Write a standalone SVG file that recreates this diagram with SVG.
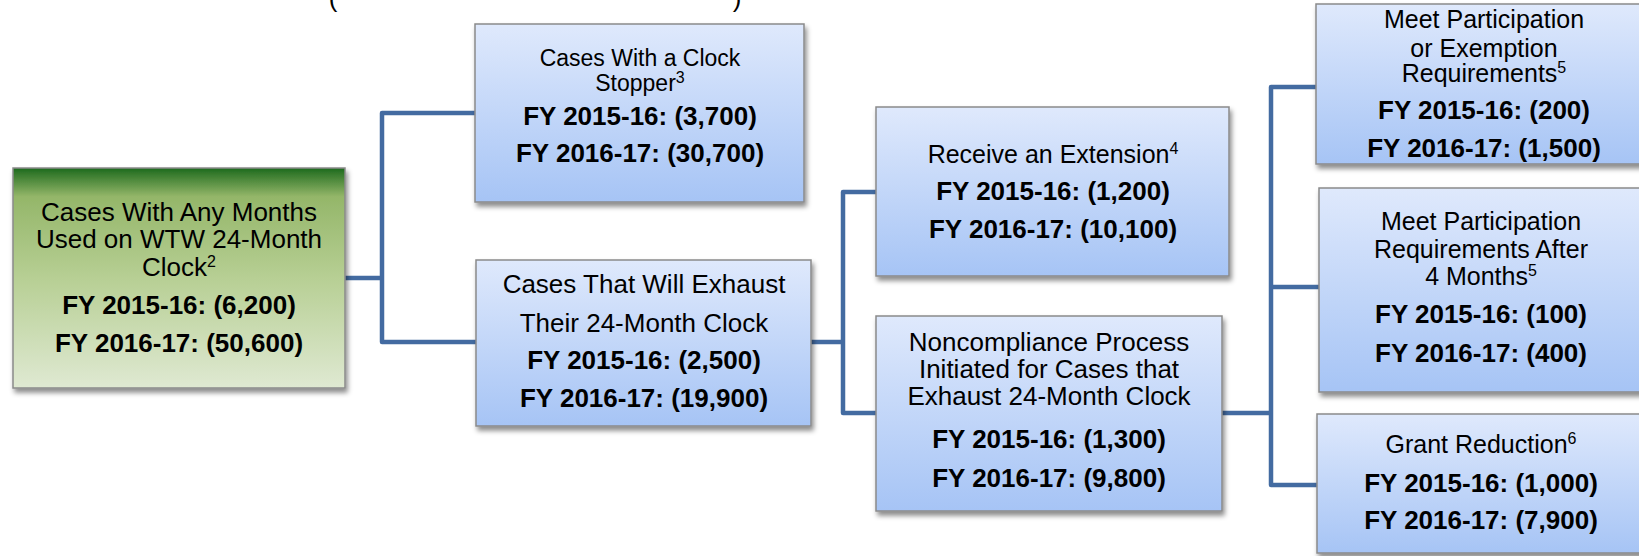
<svg xmlns="http://www.w3.org/2000/svg" width="1639" height="556" viewBox="0 0 1639 556">
<defs>
<linearGradient id="blue" x1="0" y1="0" x2="0" y2="1">
<stop offset="0" stop-color="#dfe9fc"/>
<stop offset="1" stop-color="#a6c4f5"/>
</linearGradient>
<linearGradient id="green" x1="0" y1="0" x2="0" y2="1">
<stop offset="0" stop-color="#1d6a1d"/>
<stop offset="0.13" stop-color="#94b669"/>
<stop offset="0.5" stop-color="#b7cf94"/>
<stop offset="1" stop-color="#dfe9d2"/>
</linearGradient>
<filter id="sh" x="-10%" y="-10%" width="125%" height="130%">
<feDropShadow dx="2" dy="4" stdDeviation="2.5" flood-color="#000" flood-opacity="0.45"/>
</filter>
</defs>
<style>
.box{fill:url(#blue);stroke:#8a8a8a;stroke-width:1.5;filter:url(#sh)}
.gbox{fill:url(#green);stroke:#8a8a8a;stroke-width:1.5;filter:url(#sh)}
text{font-family:"Liberation Sans",Arial,sans-serif;fill:#000;text-anchor:middle}
.r{font-size:25px}
.b{font-size:26px;font-weight:bold}
.sup{font-size:16px}
.c{fill:none;stroke:#436ba1;stroke-width:4.5;stroke-linejoin:round;stroke-linecap:butt}
</style>
<text x="333" y="7" style="font-size:26px">(</text>
<text x="737" y="7" style="font-size:26px">)</text>
<g id="connectors">
<path class="c" d="M345,278 H382 M475,113 H382 V342 H476"/>
<path class="c" d="M811,342 H843 M876,192 H843 V413 H876"/>
<path class="c" d="M1222,413 H1271 M1316,87 H1271 V485 H1317 M1271,287 H1319"/>
</g>
<g id="n1">
<rect class="gbox" x="13" y="168" width="332" height="220"/>
<text class="r" x="179" y="221" style="font-size:26px">Cases With Any Months</text>
<text class="r" x="179" y="248" style="font-size:26px">Used on WTW 24-Month</text>
<text class="r" x="179" y="276" style="font-size:26px">Clock<tspan class="sup" dy="-9">2</tspan></text>
<text class="b" x="179" y="314">FY 2015-16: (6,200)</text>
<text class="b" x="179" y="352">FY 2016-17: (50,600)</text>
</g>
<g id="n2">
<rect class="box" x="475" y="24" width="329" height="178"/>
<text class="r" x="640" y="66" style="font-size:23px">Cases With a Clock</text>
<text class="r" x="640" y="91" style="font-size:23px">Stopper<tspan class="sup" dy="-8">3</tspan></text>
<text class="b" x="640" y="125">FY 2015-16: (3,700)</text>
<text class="b" x="640" y="162">FY 2016-17: (30,700)</text>
</g>
<g id="n3">
<rect class="box" x="476" y="260" width="335" height="166"/>
<text class="r" x="644" y="293" style="font-size:26px">Cases That Will Exhaust</text>
<text class="r" x="644" y="332" style="font-size:26px">Their 24-Month Clock</text>
<text class="b" x="644" y="369">FY 2015-16: (2,500)</text>
<text class="b" x="644" y="407">FY 2016-17: (19,900)</text>
</g>
<g id="n4">
<rect class="box" x="876" y="107" width="353" height="169"/>
<text class="r" x="1053" y="163">Receive an Extension<tspan class="sup" dy="-9">4</tspan></text>
<text class="b" x="1053" y="200">FY 2015-16: (1,200)</text>
<text class="b" x="1053" y="238">FY 2016-17: (10,100)</text>
</g>
<g id="n5">
<rect class="box" x="876" y="316" width="346" height="195"/>
<text class="r" x="1049" y="351" style="font-size:26px">Noncompliance Process</text>
<text class="r" x="1049" y="378" style="font-size:26px">Initiated for Cases that</text>
<text class="r" x="1049" y="405" style="font-size:26px">Exhaust 24-Month Clock</text>
<text class="b" x="1049" y="448">FY 2015-16: (1,300)</text>
<text class="b" x="1049" y="487">FY 2016-17: (9,800)</text>
</g>
<g id="n6">
<rect class="box" x="1316" y="4" width="340" height="160"/>
<text class="r" x="1484" y="28">Meet Participation</text>
<text class="r" x="1484" y="57">or Exemption</text>
<text class="r" x="1484" y="82">Requirements<tspan class="sup" dy="-9">5</tspan></text>
<text class="b" x="1484" y="119">FY 2015-16: (200)</text>
<text class="b" x="1484" y="157">FY 2016-17: (1,500)</text>
</g>
<g id="n7">
<rect class="box" x="1319" y="188" width="340" height="204"/>
<text class="r" x="1481" y="230">Meet Participation</text>
<text class="r" x="1481" y="258">Requirements After</text>
<text class="r" x="1481" y="285">4 Months<tspan class="sup" dy="-9">5</tspan></text>
<text class="b" x="1481" y="323">FY 2015-16: (100)</text>
<text class="b" x="1481" y="362">FY 2016-17: (400)</text>
</g>
<g id="n8">
<rect class="box" x="1317" y="414" width="340" height="139"/>
<text class="r" x="1481" y="453">Grant Reduction<tspan class="sup" dy="-9">6</tspan></text>
<text class="b" x="1481" y="492">FY 2015-16: (1,000)</text>
<text class="b" x="1481" y="529">FY 2016-17: (7,900)</text>
</g>
</svg>
